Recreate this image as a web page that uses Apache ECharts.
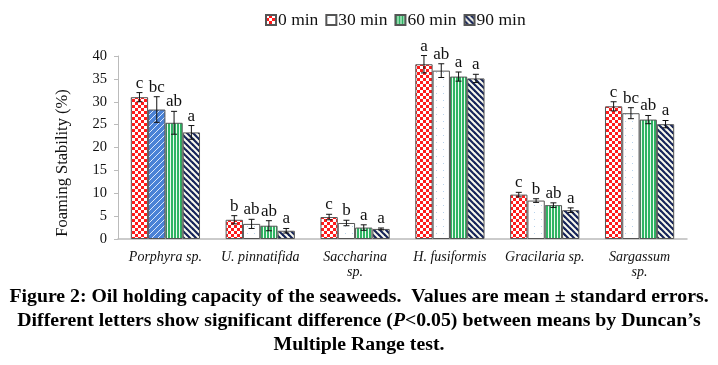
<!DOCTYPE html>
<html>
<head>
<meta charset="utf-8">
<script src="https://cdn.jsdelivr.net/npm/echarts@6/dist/echarts.min.js"></script>
<style>
html,body{margin:0;padding:0;background:#fff;}
#chart{width:718px;height:365px;}
</style>
</head>
<body>
<div id="chart"></div>
<script>
// ---- data ----
const categories = ['Porphyra sp.', 'U. pinnatifida', 'Saccharina\nsp.', 'H. fusiformis', 'Gracilaria sp.', 'Sargassum\nsp.'];
const seriesNames = ['0 min', '30 min', '60 min', '90 min'];
const min0  = [31.0, 4.2, 4.8, 38.2, 9.7, 29.0];
const min30 = [28.3, 3.3, 3.5, 36.8, 8.4, 27.5];
const min60 = [25.4, 2.9, 2.5, 35.5, 7.4, 26.1];
const min90 = [23.3, 1.8, 2.2, 35.1, 6.3, 25.1];
const err0  = [1.0, 0.9, 0.6, 1.9, 0.5, 1.0];
const err30 = [2.8, 1.0, 0.6, 1.5, 0.4, 1.2];
const err60 = [2.5, 1.1, 0.6, 1.0, 0.5, 0.9];
const err90 = [1.5, 0.5, 0.2, 0.9, 0.5, 0.8];
const let0  = ['c', 'b', 'c', 'a', 'c', 'c'];
const let30 = ['bc', 'ab', 'b', 'ab', 'b', 'bc'];
const let60 = ['ab', 'ab', 'a', 'a', 'ab', 'ab'];
const let90 = ['a', 'a', 'a', 'a', 'a', 'a'];
const yTicks = [0, 5, 10, 15, 20, 25, 30, 35, 40];
const captionLines = [
  'Figure 2: Oil holding capacity of the seaweeds.  Values are mean \u00b1 standard errors.',
  'Different letters show significant difference (P<0.05) between means by Duncan\u2019s',
  'Multiple Range test.'
];

const values = [min0, min30, min60, min90];
const errors = [err0, err30, err60, err90];
const letters = [let0, let30, let60, let90];

// ---- patterns ----
function pat(w, h, draw) {
  const c = document.createElement('canvas');
  c.width = w; c.height = h;
  const g = c.getContext('2d');
  draw(g, w, h);
  return { image: c, repeat: 'repeat' };
}
const redChecker = pat(6, 6, (g) => {
  g.fillStyle = '#ff1c1c'; g.fillRect(0, 0, 6, 6);
  g.fillStyle = '#ffffff'; g.fillRect(0, 0, 3, 3); g.fillRect(3, 3, 3, 3);
});
const whiteDots = pat(7, 7, (g) => {
  g.fillStyle = '#ffffff'; g.fillRect(0, 0, 7, 7);
  g.fillStyle = '#b9d3ec'; g.fillRect(2, 2, 1, 1);
});
const greenStripes = pat(3, 3, (g) => {
  g.fillStyle = '#2fb463'; g.fillRect(0, 0, 3, 3);
  g.fillStyle = '#eafaf0'; g.fillRect(2, 0, 1, 3);
});
const navyDiag = pat(6, 6, (g) => {
  g.fillStyle = '#fbfbee'; g.fillRect(0, 0, 6, 6);
  g.strokeStyle = '#16245a'; g.lineWidth = 2.2;
  for (let x0 = -6; x0 <= 6; x0 += 6) {
    g.beginPath(); g.moveTo(x0 - 1, -1); g.lineTo(x0 + 7, 7); g.stroke();
  }
});
const blueHatch = pat(6, 6, (g) => {
  g.fillStyle = '#4a82d6'; g.fillRect(0, 0, 6, 6);
  g.strokeStyle = '#dbe8fb'; g.lineWidth = 1;
  for (let x0 = 0; x0 <= 12; x0 += 6) {
    g.beginPath(); g.moveTo(x0 + 1, -1); g.lineTo(x0 - 7, 7); g.stroke();
  }
});
const fills = [redChecker, whiteDots, greenStripes, navyDiag];

const GAP = 0.27;
const serif = 'Liberation Serif';

const series = [];
seriesNames.forEach((name, si) => {
  const data = values[si].map((v, ci) => {
    if (si === 1 && ci === 0) {
      return { value: v, itemStyle: { color: blueHatch } };
    }
    return v;
  });
  series.push({
    name: name,
    type: 'bar',
    data: data,
    barGap: '0%',
    barCategoryGap: (GAP * 100) + '%',
    itemStyle: { color: fills[si], borderColor: '#555', borderWidth: 1 },
    emphasis: { disabled: true },
    animation: false
  });
});
// error bars and letters
seriesNames.forEach((name, si) => {
  series.push({
    type: 'custom',
    silent: true,
    animation: false,
    z: 5,
    data: values[si].map((v, ci) => [ci, v, errors[si][ci]]),
    renderItem: function (params, api) {
      const ci = api.value(0), v = api.value(1), e = api.value(2);
      const catW = api.size([1, 0])[0];
      const barW = catW * (1 - GAP) / 4;
      const c = api.coord([ci, v]);
      const x = c[0] + (si - 1.5) * barW;
      const yt = api.coord([ci, v + e])[1];
      const yb = api.coord([ci, v - e])[1];
      const cap = 3;
      const st = { stroke: '#111', lineWidth: 1 };
      return {
        type: 'group',
        children: [
          { type: 'line', shape: { x1: x, y1: yt, x2: x, y2: yb }, style: st },
          { type: 'line', shape: { x1: x - cap, y1: yt, x2: x + cap, y2: yt }, style: st },
          { type: 'line', shape: { x1: x - cap, y1: yb, x2: x + cap, y2: yb }, style: st },
          { type: 'text', style: { x: x, y: yt - 1, text: letters[si][params.dataIndex],
              align: 'center', verticalAlign: 'bottom', fill: '#111',
              font: '17px "' + serif + '"' } }
        ]
      };
    }
  });
});

const chart = echarts.init(document.getElementById('chart'), null, { renderer: 'canvas' });
chart.setOption({
  animation: false,
  backgroundColor: '#fff',
  legend: {
    data: seriesNames,
    top: 6,
    left: 260,
    itemWidth: 10,
    itemHeight: 10,
    itemGap: 7,
    textStyle: { fontFamily: serif, fontSize: 17.5, color: '#111', padding: [0, 0, 0, -3] },
    icon: 'rect'
  },
  grid: { left: 118, right: 31, top: 56, bottom: 126 },
  xAxis: {
    type: 'category',
    data: categories,
    axisLine: { lineStyle: { color: '#bbb', width: 1.5 } },
    axisTick: { show: false },
    axisLabel: { fontFamily: serif, fontStyle: 'italic', fontSize: 14, color: '#111', margin: 11, lineHeight: 15, interval: 0 }
  },
  yAxis: {
    type: 'value',
    min: 0, max: 40, interval: 5,
    axisLine: { show: true, lineStyle: { color: '#bbb' } },
    axisTick: { show: true, length: 4, lineStyle: { color: '#bbb' } },
    splitLine: { show: false },
    axisLabel: { fontFamily: serif, fontSize: 14.5, color: '#111', margin: 11,
      formatter: (v) => yTicks.includes(v) ? String(v) : '' }
  },
  graphic: [
    { type: 'text', x: 63, y: 163, rotation: Math.PI / 2,
      style: { text: 'Foaming Stability (%)', font: '16.5px "' + serif + '"', fill: '#111', align: 'center', verticalAlign: 'middle' } },
    { type: 'text', x: 359, y: 297,
      style: { text: captionLines[0], font: 'bold 19.8px "' + serif + '"', fill: '#000', align: 'center', verticalAlign: 'middle' } },
    { type: 'text', x: 359, y: 321,
      style: { rich: {
          n: { font: 'bold 19.8px "' + serif + '"', fill: '#000' },
          i: { font: 'italic bold 19.8px "' + serif + '"', fill: '#000' } },
        text: '{n|Different letters show significant difference (}{i|P}{n|<0.05) between means by Duncan\u2019s}',
        align: 'center', verticalAlign: 'middle' } },
    { type: 'text', x: 359, y: 345,
      style: { text: captionLines[2], font: 'bold 19.8px "' + serif + '"', fill: '#000', align: 'center', verticalAlign: 'middle' } }
  ],
  series: series
});
</script>
</body>
</html>
